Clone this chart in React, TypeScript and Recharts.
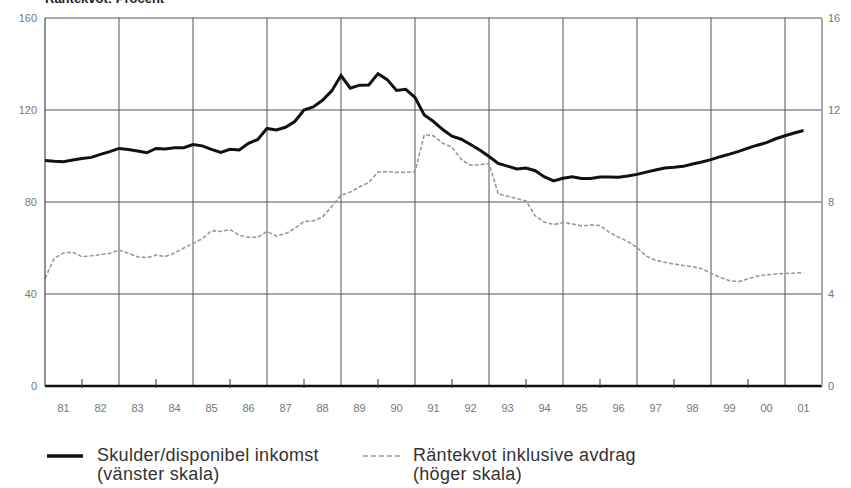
import { LineChart, Line, XAxis, YAxis, CartesianGrid, ReferenceLine } from "recharts";

// quarterly, 1981 Q1 .. 2001 Q3
const debtRatio = [
    98.0, 97.7, 97.5, 98.3, 98.9, 99.4, 100.7, 101.9,
    103.3, 102.8, 102.2, 101.4, 103.3, 103.0, 103.6, 103.6,
    105.0, 104.4, 102.9, 101.6, 102.9, 102.6, 105.5, 107.2,
    112.0, 111.3, 112.5, 115.0, 120.0, 121.3, 124.2, 128.3,
    135.0, 129.5, 130.8, 130.9, 135.8, 133.2, 128.5, 129.0,
    125.5, 117.8, 115.0, 111.5, 108.6, 107.3, 105.0, 102.6,
    99.8, 96.8, 95.6, 94.4, 94.8, 93.6, 90.9, 89.2,
    90.3, 91.0, 90.2, 90.2, 90.9, 90.9, 90.8, 91.3,
    92.0, 93.0, 93.9, 94.8, 95.1, 95.5, 96.5, 97.4,
    98.4, 99.7, 100.8, 102.0, 103.4, 104.7, 105.8, 107.5,
    108.8, 110.0, 111.1,
];

const interestRatio = [
    4.68, 5.55, 5.78, 5.82, 5.62, 5.66, 5.71, 5.77,
    5.91, 5.77, 5.62, 5.58, 5.69, 5.63, 5.78, 6.0,
    6.2, 6.4, 6.75, 6.72, 6.8, 6.55, 6.47, 6.47,
    6.72, 6.52, 6.62, 6.85, 7.15, 7.18, 7.35, 7.8,
    8.3, 8.43, 8.66, 8.85, 9.3, 9.32, 9.29, 9.29,
    9.31, 10.92, 10.88, 10.55, 10.38, 9.85, 9.6, 9.62,
    9.68, 8.35, 8.25, 8.15, 8.05, 7.4, 7.12, 7.02,
    7.1, 7.05, 6.96, 7.0, 6.98, 6.68, 6.47, 6.28,
    6.02, 5.65, 5.47, 5.38, 5.3, 5.24, 5.19, 5.1,
    4.9, 4.72, 4.58, 4.54, 4.66, 4.78, 4.83, 4.87,
    4.89, 4.91, 4.93,
];

const firstYear = 1981;
const lastYear = 2002;
const yearTicks = Array.from({ length: lastYear - firstYear + 1 }, (_, i) => firstYear + i);
const gridYears = [1983, 1985, 1987, 1989, 1991, 1993, 1995, 1997, 1999, 2001];
const leftTicks = [0, 40, 80, 120, 160];
const rightTicks = [0, 4, 8, 12, 16];

const seriesNames = ["Skulder/disponibel inkomst", "Räntekvot inklusive avdrag"];
const seriesNotes = ["(vänster skala)", "(höger skala)"];

const data = debtRatio.map((v, i) => ({
    t: firstYear + i / 4,
    debt: v,
    rate: interestRatio[i],
}));

const FONT = "'Liberation Sans', Arial, sans-serif";

const YearTick = (props: any) => {
    const { x, y, payload } = props;
    const year: number = payload.value;
    const minor = year % 2 === 0 && year < lastYear;
    return (
        <g>
            {minor && <line x1={x} x2={x} y1={y - 9} y2={y} stroke="#333" strokeWidth={1} />}
            {year < lastYear && (
                <text x={x + 18.5} y={y + 24} textAnchor="middle" fill="#777" fontSize={11} fontFamily={FONT}>
                    {String(year % 100).padStart(2, "0")}
                </text>
            )}
        </g>
    );
};

const legendRow = { position: "absolute" as const, top: 446, display: "flex", fontSize: 18, color: "#333", lineHeight: "19px", letterSpacing: 0.3 };

export default function App() {
    return (
        <div style={{ position: "absolute", left: 0, top: 0, width: 851, height: 488, background: "#fff", fontFamily: FONT, overflow: "hidden" }}>
            <div style={{ position: "absolute", left: 45, top: -9, fontSize: 13, fontWeight: "bold", color: "#222" }}>
                Räntekvot: Procent
            </div>
            <LineChart width={851} height={488} data={data} margin={{ top: 18, right: 0, left: 0, bottom: 0 }}>
                <CartesianGrid vertical={false} yAxisId="left" stroke="#555" strokeWidth={1} />
                {gridYears.map((yr) => (
                    <ReferenceLine key={yr} x={yr} yAxisId="left" stroke="#555" strokeWidth={1} />
                ))}
                <XAxis
                    dataKey="t"
                    type="number"
                    domain={[firstYear, lastYear]}
                    ticks={yearTicks}
                    interval={0}
                    tickLine={false}
                    tickSize={0}
                    tick={<YearTick />}
                    axisLine={{ stroke: "#111", strokeWidth: 2.5 }}
                    height={102}
                />
                <YAxis
                    yAxisId="left"
                    domain={[0, 160]}
                    ticks={leftTicks}
                    width={45}
                    tickLine={false}
                    tickSize={0}
                    tickMargin={8}
                    axisLine={{ stroke: "#222" }}
                    tick={{ fill: "#777", fontSize: 11, fontFamily: FONT }}
                />
                <YAxis
                    yAxisId="right"
                    orientation="right"
                    domain={[0, 16]}
                    ticks={rightTicks}
                    width={29}
                    tickLine={false}
                    tickSize={0}
                    tickMargin={6}
                    axisLine={{ stroke: "#aaa", strokeWidth: 2 }}
                    tick={{ fill: "#777", fontSize: 11, fontFamily: FONT, textAnchor: "start" }}
                />
                <Line yAxisId="right" dataKey="rate" type="linear" stroke="#999" strokeWidth={1.6} strokeDasharray="4 2" dot={false} isAnimationActive={false} />
                <Line yAxisId="left" dataKey="debt" type="linear" stroke="#111" strokeWidth={3} dot={false} isAnimationActive={false} />
            </LineChart>

            <div style={{ ...legendRow, left: 47 }}>
                <svg width={50} height={19}>
                    <line x1={0} x2={36} y1={10} y2={10} stroke="#111" strokeWidth={3.5} />
                </svg>
                <div>
                    <div>{seriesNames[0]}</div>
                    <div>{seriesNotes[0]}</div>
                </div>
            </div>
            <div style={{ ...legendRow, left: 363 }}>
                <svg width={50} height={19}>
                    <line x1={0} x2={37} y1={10} y2={10} stroke="#999" strokeWidth={1.6} strokeDasharray="5 3" />
                </svg>
                <div>
                    <div>{seriesNames[1]}</div>
                    <div>{seriesNotes[1]}</div>
                </div>
            </div>
        </div>
    );
}
